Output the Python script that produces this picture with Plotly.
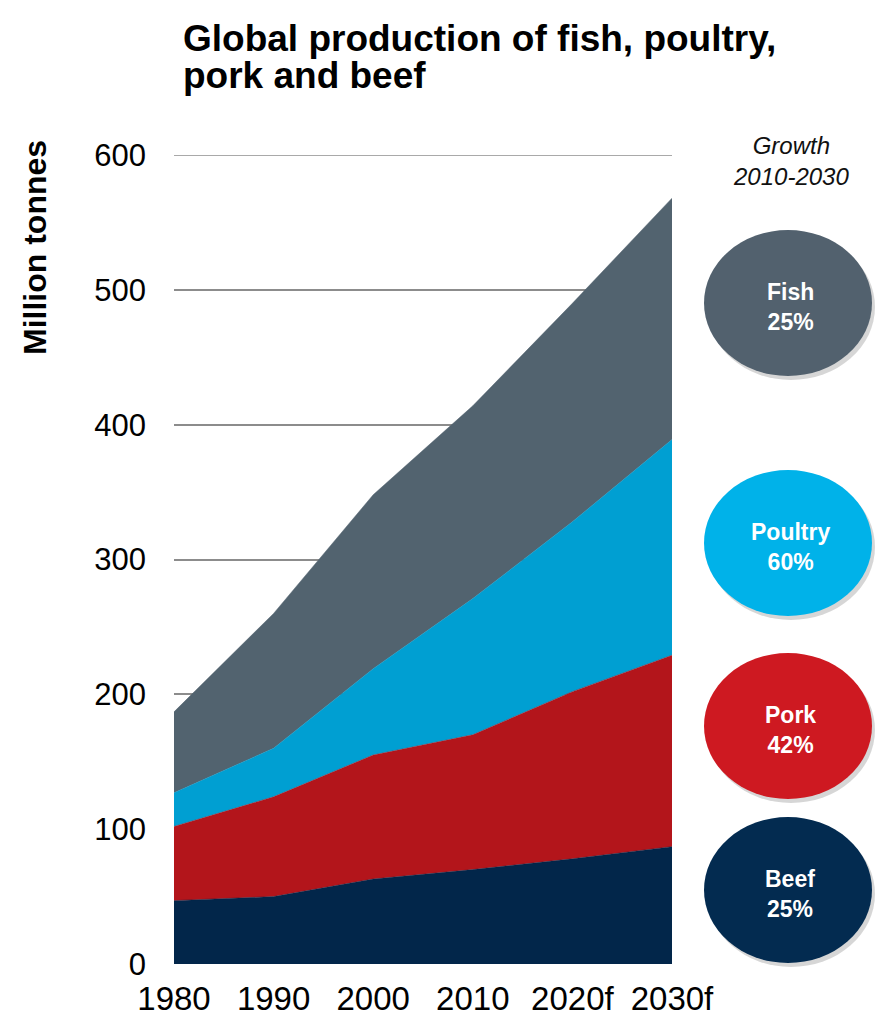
import plotly.graph_objects as go

years = ["1980", "1990", "2000", "2010", "2020f", "2030f"]
beef = [47, 50, 63, 70, 78, 87]
pork = [55, 74, 92, 100, 124, 142]
poultry = [25, 36, 64, 101, 126, 160]
fish = [60, 100, 129, 143, 162, 179]
y_ticks = [0, 100, 200, 300, 400, 500, 600]

growth_labels = ["Fish<br>25%", "Poultry<br>60%", "Pork<br>42%", "Beef<br>25%"]

W, H = 875, 1017
L, R, T, B = 174, 672, 155, 964

def xp(px):
    return (px - L) / (R - L)

def yp(py):
    return (B - py) / (B - T)

FONT = "Arial, 'Liberation Sans', sans-serif"

fig = go.Figure()
series = [("Beef", beef, "#02264A"), ("Pork", pork, "#B3151B"),
          ("Poultry", poultry, "#009FD2"), ("Fish", fish, "#52636F")]
for name, vals, col in series:
    fig.add_trace(go.Scatter(
        x=years, y=vals, name=name, mode="lines", stackgroup="one",
        line=dict(width=0.5, color=col), fillcolor=col, hoverinfo="x+y+name"))

shapes = []
annotations = []

# top gridline (sits on the plot edge, which plotly does not draw)
shapes.append(dict(type="line", xref="paper", yref="y", x0=0, x1=1,
                   y0=y_ticks[-1], y1=y_ticks[-1],
                   line=dict(color="#8C8C8C", width=1.5), layer="below"))

circle_specs = [(303, "#52616E"), (543, "#00B2E9"), (726, "#CE1921"), (890, "#032B50")]
rx, ry = 84, 73
cx = 788
for (cy, col), label in zip(circle_specs, growth_labels):
    # soft shadow
    shapes.append(dict(type="circle", xref="paper", yref="paper",
                       x0=xp(cx - rx + 3), x1=xp(cx + rx + 3),
                       y0=yp(cy + ry + 4), y1=yp(cy - ry + 4),
                       fillcolor="rgba(0,0,0,0.16)", line=dict(width=0), layer="above"))
    shapes.append(dict(type="circle", xref="paper", yref="paper",
                       x0=xp(cx - rx), x1=xp(cx + rx),
                       y0=yp(cy + ry), y1=yp(cy - ry),
                       fillcolor=col, line=dict(width=0), layer="above"))
    annotations.append(dict(xref="paper", yref="paper", x=xp(cx + 2), y=yp(cy + 4),
                            text="<b>" + label + "</b>", showarrow=False,
                            font=dict(family=FONT, size=23, color="white"),
                            xanchor="center", yanchor="middle", align="center"))

annotations.append(dict(xref="paper", yref="paper", x=xp(791), y=yp(161),
                        text="<i>Growth<br>2010-2030</i>", showarrow=False,
                        font=dict(family=FONT, size=24, color="#111111"),
                        xanchor="center", yanchor="middle", align="center"))

annotations.append(dict(xref="paper", yref="paper", x=xp(181), y=yp(39),
                        text="<b>Global production of fish, poultry,</b>", showarrow=False,
                        font=dict(family=FONT, size=37, color="#000000"),
                        xanchor="left", yanchor="middle", align="left"))
annotations.append(dict(xref="paper", yref="paper", x=xp(181), y=yp(76),
                        text="<b>pork and beef</b>", showarrow=False,
                        font=dict(family=FONT, size=37, color="#000000"),
                        xanchor="left", yanchor="middle", align="left"))

annotations.append(dict(xref="paper", yref="paper", x=xp(35), y=yp(248),
                        text="<b>Million tonnes</b>", showarrow=False, textangle=-90,
                        font=dict(family=FONT, size=32, color="#000000"),
                        xanchor="center", yanchor="middle"))

fig.update_layout(
    width=W, height=H,
    margin=dict(l=L, r=W - R, t=T, b=H - B, pad=0, autoexpand=False),
    paper_bgcolor="white", plot_bgcolor="white",
    showlegend=False,
    shapes=shapes, annotations=annotations,
    xaxis=dict(type="category", range=[0, 5], showgrid=False, zeroline=False,
               showline=False, ticks="", automargin=False,
               tickfont=dict(family=FONT, size=33, color="#000"),
               ticklabelstandoff=12),
    yaxis=dict(range=[0, 600], tickvals=y_ticks, showgrid=True, gridcolor="#8C8C8C",
               gridwidth=1.5, zeroline=False, showline=False, ticks="", automargin=False,
               tickfont=dict(family=FONT, size=31, color="#000"),
               ticklabelstandoff=27),
)

fig.write_html("out.html", config={"displayModeBar": False},
               post_script="document.body.style.margin='0';document.body.style.overflow='hidden';")
